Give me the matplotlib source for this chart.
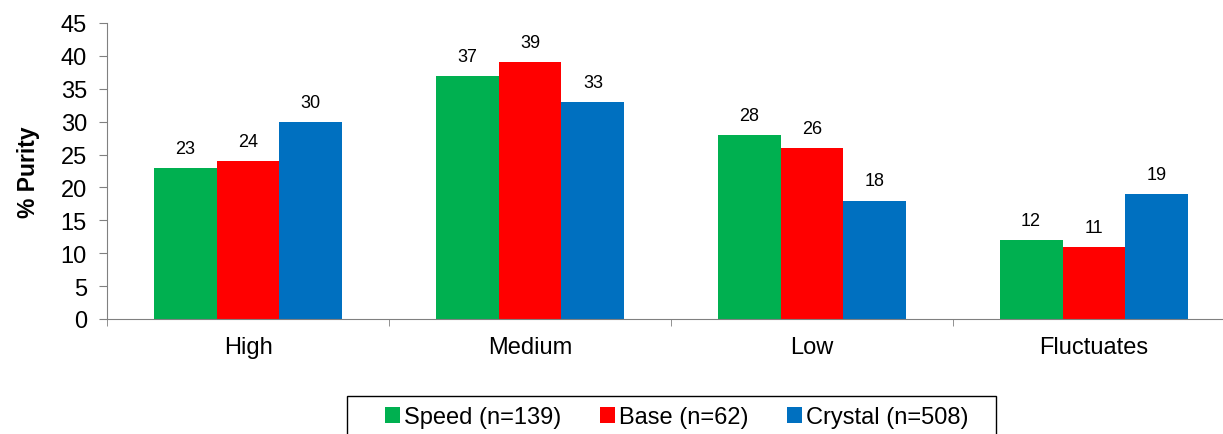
import matplotlib
matplotlib.use("Agg")
import matplotlib.pyplot as plt
from matplotlib.patches import Rectangle
import numpy as np

plt.rcParams['font.family'] = ['Liberation Sans', 'DejaVu Sans']

categories = ["High", "Medium", "Low", "Fluctuates"]
series_names = ["Speed (n=139)", "Base (n=62)", "Crystal (n=508)"]
speed = [23, 37, 28, 12]
base = [24, 39, 26, 11]
crystal = [30, 33, 18, 19]
colors = ["#00B050", "#FF0000", "#0070C0"]

W, H = 1223, 435
fig = plt.figure(figsize=(W / 100, H / 100), dpi=100)
# axes spans past the right edge of the canvas
ax = fig.add_axes([107 / W, 1 - 320 / H, (1235 - 107) / W, (320 - 24) / H])

x = np.arange(len(categories))
bw = 0.223
for i, (vals, name, c) in enumerate(zip([speed, base, crystal], series_names, colors)):
    pos = x + (i - 1) * bw
    bars = ax.bar(pos, vals, width=bw, color=c, label=name, zorder=2)
    for b, v in zip(bars, vals):
        ax.annotate(str(v), (b.get_x() + b.get_width() / 2, v),
                    xytext=(0, 8), textcoords="offset points",
                    ha="center", va="bottom", fontsize=13)

ax.set_xlim(-0.5, len(categories) - 0.5)
ax.set_ylim(0, 45)
ax.set_yticks(range(0, 46, 5))
ax.tick_params(axis="y", labelsize=17, length=6, color="#808080", pad=8.5)

ax.set_xticks(x)
ax.set_xticklabels(categories, fontsize=17)
ax.tick_params(axis="x", length=0, pad=12)
ax.set_xticks(np.arange(-0.5, len(categories), 1), minor=True)
ax.tick_params(axis="x", which="minor", length=5, color="#808080")

for s in ["top", "right"]:
    ax.spines[s].set_visible(False)
for s in ["left", "bottom"]:
    ax.spines[s].set_color("#808080")

ax.set_ylabel("% Purity", fontsize=16.5, fontweight="bold", labelpad=15)

# legend entries, with a separate frame box running off the bottom edge
leg = fig.legend(loc="center left", bbox_to_anchor=(385 / W, 1 - 418 / H),
                 ncol=3, fontsize=17, frameon=False,
                 handlelength=0.64, handleheight=0.64,
                 handletextpad=0.15, columnspacing=1.65, borderpad=0,
                 borderaxespad=0)
fig.patches.append(Rectangle((347 / W, -0.05), (996 - 347) / W, (1 - 397 / H) + 0.05,
                             transform=fig.transFigure, fill=False,
                             edgecolor="black", linewidth=1.0))

fig.savefig("out.png", dpi=100)
